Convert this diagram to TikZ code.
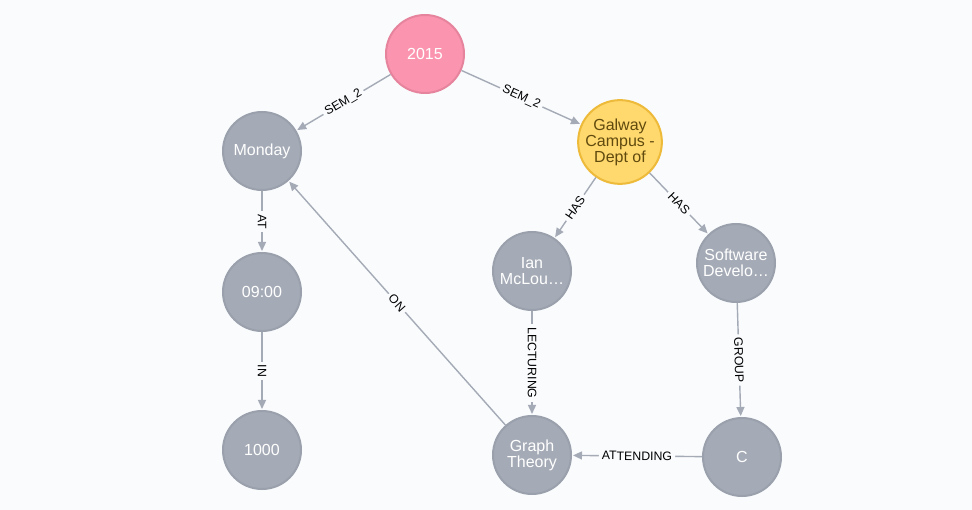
\documentclass[tikz,border=0pt]{standalone}
\usepackage{fontspec}
\setmainfont{Liberation Sans}
\usetikzlibrary{arrows.meta}
\definecolor{bgc}{HTML}{F9FBFD}
\definecolor{grayfill}{HTML}{A5ABB6}
\definecolor{grayline}{HTML}{9AA1AC}
\definecolor{pinkfill}{HTML}{FB95AF}
\definecolor{pinkline}{HTML}{E7849D}
\definecolor{yelfill}{HTML}{FFD86E}
\definecolor{yelline}{HTML}{EDBA39}
\definecolor{yeltext}{HTML}{604A0E}
\definecolor{edgec}{HTML}{A5ABB6}
\tikzset{
  gnode/.style={circle, minimum size=78pt, inner sep=0pt, line width=2pt,
    draw=grayline, fill=grayfill, text=white, align=center,
    font=\fontsize{16}{16}\selectfont},
  pnode/.style={gnode, draw=pinkline, fill=pinkfill},
  ynode/.style={gnode, draw=yelline, fill=yelfill, text=yeltext},
  rel/.style={draw=edgec, line width=1.4pt, -{Triangle[length=9pt,width=8pt]}, shorten >=1pt},
  rlabel/.style={sloped, fill=bgc, text=black, inner xsep=3pt, inner ysep=1pt,
    font=\fontsize{12.3}{13}\selectfont}
}
\begin{document}
\begin{tikzpicture}[x=1pt,y=-1pt]
\fill[bgc] (0,0) rectangle (972,510);
\useasboundingbox (0,0) rectangle (972,510);
\node[pnode] (y2015) at (425,54) {2015};
\node[gnode] (mon) at (262,151) {Monday};
\node[gnode] (t0900) at (262,292) {09:00};
\node[gnode] (r1000) at (262,450) {1000};
\node[ynode] (galway) at (620,142) {Galway\\Campus -\\Dept of};
\node[gnode] (ian) at (532,271) {Ian\\McLou…};
\node[gnode] (soft) at (736,263) {Software\\Develo…};
\node[gnode] (graph) at (532,455) {Graph\\Theory};
\node[gnode] (cc) at (742,457) {C};

\draw[rel] (y2015) -- node[rlabel] {SEM\_2} (mon);
\draw[rel] (y2015) -- node[rlabel] {SEM\_2} (galway);
\draw[rel] (mon) -- node[rlabel] {AT} (t0900);
\draw[rel] (t0900) -- node[rlabel] {IN} (r1000);
\draw[rel] (galway) -- node[rlabel] {HAS} (ian);
\draw[rel] (galway) -- node[rlabel] {HAS} (soft);
\draw[rel] (ian) -- node[rlabel] {LECTURING} (graph);
\draw[rel] (soft) -- node[rlabel] {GROUP} (cc);
\draw[rel] (cc) -- node[rlabel] {ATTENDING} (graph);
\draw[rel] (graph) -- node[rlabel] {ON} (mon);
\end{tikzpicture}
\end{document}
